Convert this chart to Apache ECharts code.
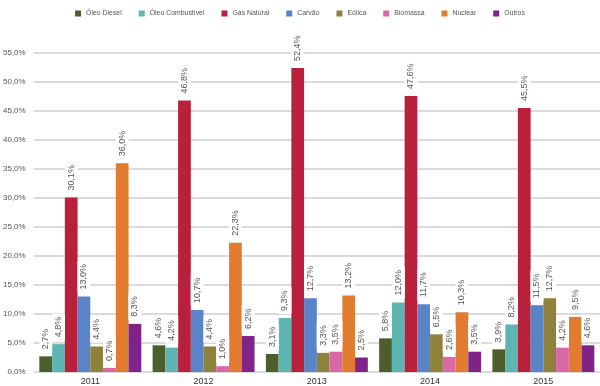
<!DOCTYPE html>
<html><head><meta charset="utf-8">
<script src="https://cdn.jsdelivr.net/npm/echarts@6/dist/echarts.min.js"></script>
<style>html,body{margin:0;padding:0;background:#fff}#c{width:600px;height:386px}</style>
</head><body><div id="c"></div>
<script>
const categories = ['2011','2012','2013','2014','2015'];
const seriesNames = ['Óleo Diesel','Óleo Combustível','Gás Natural','Carvão','Eólica','Biomassa','Nuclear','Outros'];
const oleoDiesel = [2.7, 4.6, 3.1, 5.8, 3.9];
const oleoCombustivel = [4.8, 4.2, 9.3, 12.0, 8.2];
const gasNatural = [30.1, 46.8, 52.4, 47.6, 45.5];
const carvao = [13.0, 10.7, 12.7, 11.7, 11.5];
const eolica = [4.4, 4.4, 3.3, 6.5, 12.7];
const biomassa = [0.7, 1.0, 3.5, 2.6, 4.2];
const nuclear = [36.0, 22.3, 13.2, 10.3, 9.5];
const outros = [8.3, 6.2, 2.5, 3.5, 4.6];
const yTicks = [0,5,10,15,20,25,30,35,40,45,50,55];
const colors = ['#4b5e2c','#5db6b1','#b8203b','#5b83c8','#8e8139','#da67a6','#e07b30','#7f2388'];
const allData = [oleoDiesel, oleoCombustivel, gasNatural, carvao, eolica, biomassa, nuclear, outros];
const fmt = v => v.toFixed(1).replace('.', ',') + '%';
const chart = echarts.init(document.getElementById('c'));
chart.setOption({
  animation: false,
  color: colors,
  textStyle: {fontFamily: 'Liberation Sans, Arial, sans-serif'},
  legend: {
    top: 5, left: 'center', itemWidth: 6, itemHeight: 6, itemGap: 17, icon: 'rect',
    textStyle: {fontSize: 6.9, color: '#555'}
  },
  grid: {left: 30, right: 0, top: 53, bottom: 13, containLabel: false},
  xAxis: {
    type: 'category', data: categories,
    axisLine: {show: false}, axisTick: {show: false},
    axisLabel: {fontSize: 9, color: '#333', margin: 5}
  },
  yAxis: {
    type: 'value', min: 0, max: 55, interval: 5,
    axisLine: {show: false}, axisTick: {show: false},
    axisLabel: {fontSize: 8, color: '#555', margin: 8, formatter: v => fmt(v)},
    splitLine: {lineStyle: {color: '#cfcfcf', width: 1.5}}
  },
  series: allData.map((d, i) => ({
    name: seriesNames[i], type: 'bar', data: d,
    barGap: '0%', barCategoryGap: '10%',
    label: {
      show: true, position: 'top', rotate: 90, align: 'left', verticalAlign: 'middle',
      distance: 4, fontSize: 9, color: '#555', backgroundColor: '#fff', padding: [2, 3],
      formatter: p => fmt(p.value)
    }
  }))
});
</script></body></html>
